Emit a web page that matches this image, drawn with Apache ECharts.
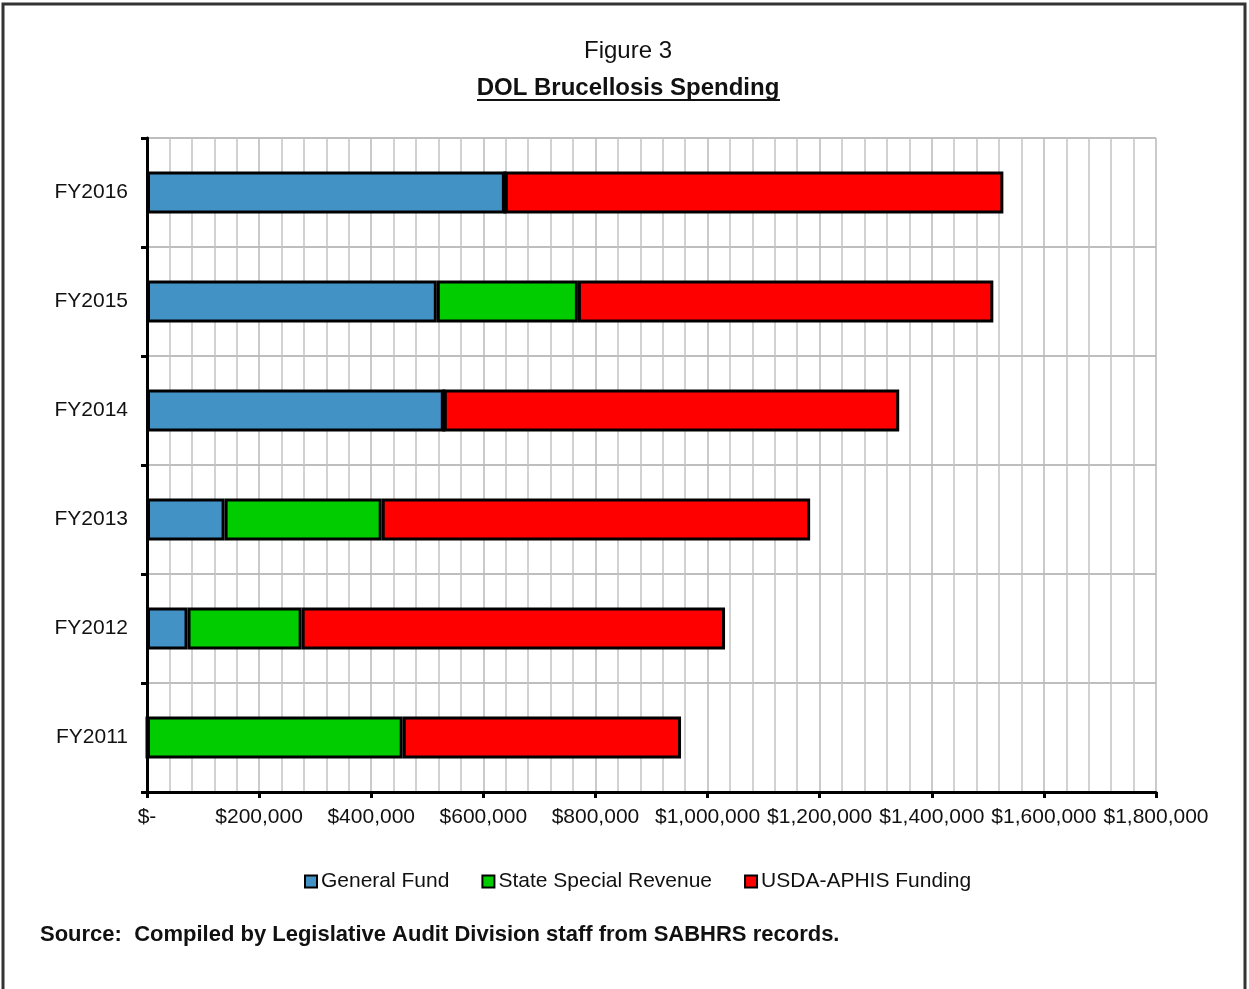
<!DOCTYPE html>
<html>
<head>
<meta charset="utf-8">
<script src="https://cdn.jsdelivr.net/npm/echarts@6/dist/echarts.min.js"></script>
<style>
    html, body { margin: 0; padding: 0; background: #fff; }
    #chart { width: 1249px; height: 989px; }
</style>
</head>
<body>
<div id="chart"></div>
<script>
// data (dollars)
var years = ['FY2011', 'FY2012', 'FY2013', 'FY2014', 'FY2015', 'FY2016'];
var generalFund = [0, 72300, 138400, 529500, 517000, 638400];
var stateSpecial = [456200, 203600, 280300, 0, 251700, 0];
var usdaAphis = [496500, 755300, 764300, 812400, 741100, 889300];

var plain = '"Liberation Sans", Arial, sans-serif';

function money(v) {
    if (v === 0) return '$-';
    return '$' + v.toLocaleString('en-US');
}

function seg(name, data, color) {
    return {
        name: name,
        type: 'bar',
        stack: 'total',
        barWidth: 42,
        data: data,
        itemStyle: {
            color: color,
            borderColor: '#000',
            borderWidth: 3
        }
    };
}

var myChart = echarts.init(document.getElementById('chart'));
var option = {
    backgroundColor: '#fff',
    animation: false,
    graphic: [{
        type: 'rect',
        shape: { x: 3, y: 4, width: 1242, height: 1000 },
        style: { fill: null, stroke: '#333', lineWidth: 3 },
        silent: true
    }, {
        type: 'text',
        x: 628, y: 51,
        style: {
            text: 'Figure 3', fill: '#111',
            font: 'normal 24px ' + plain,
            textAlign: 'center', textVerticalAlign: 'middle'
        }
    }, {
        type: 'text',
        x: 628, y: 88,
        style: {
            text: 'DOL Brucellosis Spending', fill: '#111',
            font: 'bold 24px ' + plain,
            textAlign: 'center', textVerticalAlign: 'middle'
        }
    }, {
        type: 'line',
        shape: { x1: 477, y1: 100, x2: 780, y2: 100 },
        style: { stroke: '#111', lineWidth: 2 },
        silent: true
    }, {
        type: 'text',
        x: 40, y: 935,
        style: {
            text: 'Source:  Compiled by Legislative Audit Division staff from SABHRS records.',
            fill: '#111',
            font: 'bold 22px ' + plain,
            textAlign: 'left', textVerticalAlign: 'middle'
        }
    }],
    legend: {
        left: 299,
        top: 866,
        itemWidth: 12,
        itemHeight: 12,
        itemGap: 32,
        icon: 'rect',
        textStyle: { fontFamily: plain, fontSize: 21, color: '#111', padding: [0, 0, 0, -1] },
        data: ['General Fund', 'State Special Revenue', 'USDA-APHIS Funding']
    },
    grid: {
        left: 147,
        right: 93,
        top: 138,
        bottom: 197,
        containLabel: false
    },
    xAxis: {
        type: 'value',
        min: 0,
        max: 1800000,
        interval: 200000,
        axisLine: { show: true, lineStyle: { color: '#000', width: 3 } },
        axisTick: { show: true, length: 6, lineStyle: { color: '#000', width: 3 } },
        axisLabel: {
            formatter: money,
            fontFamily: plain,
            fontSize: 21,
            color: '#111',
            margin: 15
        },
        splitLine: { show: true, lineStyle: { color: '#b8b8b8', width: 1.5 } },
        minorTick: { show: false, splitNumber: 5 },
        minorSplitLine: { show: true, lineStyle: { color: '#c4c4c4', width: 1.5 } }
    },
    yAxis: {
        type: 'category',
        data: years,
        axisLine: { show: true, lineStyle: { color: '#000', width: 3 } },
        axisTick: { show: true, length: 6, lineStyle: { color: '#000', width: 3 } },
        axisLabel: {
            fontFamily: plain,
            fontSize: 21,
            color: '#111',
            margin: 19,
            padding: [3, 0, 0, 0]
        },
        splitLine: { show: true, lineStyle: { color: '#a8a8a8', width: 1.5 } }
    },
    series: [
        seg('General Fund', generalFund, '#4292c6'),
        seg('State Special Revenue', stateSpecial, '#00cc00'),
        seg('USDA-APHIS Funding', usdaAphis, '#ff0000')
    ]
};
myChart.setOption(option);
</script>
</body>
</html>
